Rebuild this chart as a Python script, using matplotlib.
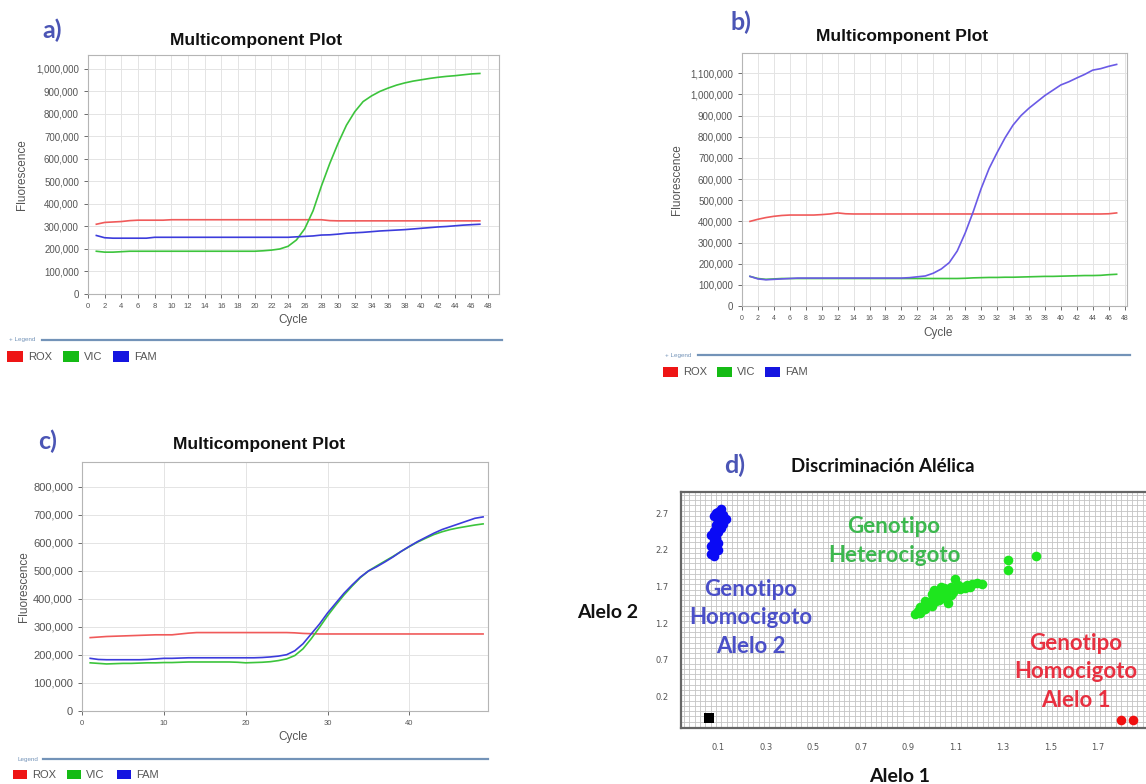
import numpy as np
import matplotlib
matplotlib.use("Agg")
import matplotlib.pyplot as plt
from matplotlib.patches import Rectangle
from matplotlib.ticker import FuncFormatter, MultipleLocator

# ---- data (fluorescence in thousands) ----
cycles_ab = np.arange(1, 48)
cycles_c = np.arange(1, 50)

a_rox = [310, 318, 320, 322, 326, 328, 328, 328, 328, 330,
         330, 330, 330, 330, 330, 330, 330, 330, 330, 330,
         330, 330, 330, 330, 330, 330, 330, 330, 326, 325,
         325, 325, 325, 325, 325, 325, 325, 325, 325, 325,
         325, 325, 325, 325, 325, 325, 325]
a_vic = [190, 186, 186, 188, 190, 190, 190, 190, 190, 190,
         190, 190, 190, 190, 190, 190, 190, 190, 190, 190,
         192, 195, 200, 212, 240, 290, 370, 480, 580, 670,
         750, 810, 855, 880, 900, 915, 928, 938, 946, 952,
         958, 963, 967, 970, 974, 978, 980]
a_fam = [260, 250, 248, 248, 248, 248, 248, 252, 252, 252,
         252, 252, 252, 252, 252, 252, 252, 252, 252, 252,
         252, 252, 252, 252, 254, 256, 258, 262, 263, 266,
         270, 272, 274, 277, 280, 282, 284, 286, 289, 292,
         295, 298, 300, 303, 306, 308, 310]

b_rox = [400, 410, 418, 424, 428, 430, 430, 430, 430, 432,
         435, 440, 436, 435, 435, 435, 435, 435, 435, 435,
         435, 435, 435, 435, 435, 435, 435, 435, 435, 435,
         435, 435, 435, 435, 435, 435, 435, 435, 435, 435,
         435, 435, 435, 435, 435, 436, 440]
b_vic = [140, 130, 126, 128, 130, 130, 130, 130, 130, 130,
         130, 130, 130, 130, 130, 130, 130, 130, 130, 130,
         130, 130, 130, 130, 130, 130, 130, 131, 133, 134,
         135, 135, 136, 136, 137, 138, 139, 140, 140, 141,
         142, 143, 144, 144, 145, 148, 150]
b_fam = [140, 128, 124, 126, 128, 130, 132, 132, 132, 132,
         132, 132, 132, 132, 132, 132, 132, 132, 132, 132,
         134, 138, 142, 155, 175, 205, 260, 345, 445, 555,
         650, 725, 795, 855, 900, 935, 965, 995, 1020, 1045,
         1060, 1078, 1095, 1115, 1122, 1133, 1142]

c_rox = [262, 264, 266, 267, 268, 269, 270, 271, 272, 272,
         272, 275, 278, 280, 280, 280, 280, 280, 280, 280,
         280, 280, 280, 280, 280, 279, 277, 276, 275, 275,
         275, 275, 275, 275, 275, 275, 275, 275, 275, 275,
         275, 275, 275, 275, 275, 275, 275, 275, 275]
c_vic = [172, 170, 168, 169, 170, 170, 171, 172, 172, 173,
         173, 174, 175, 175, 175, 175, 175, 175, 174, 172,
         173, 174, 176, 180, 186, 198, 222, 258, 298, 340,
         378, 414, 446, 476, 500, 518, 535, 552, 570, 587,
         603, 617, 630, 640, 648, 654, 659, 664, 668]
c_fam = [188, 184, 183, 183, 183, 183, 183, 184, 186, 188,
         188, 189, 190, 190, 190, 190, 190, 190, 190, 190,
         190, 191, 193, 196, 201, 215, 240, 275, 310, 350,
         385, 420, 450, 478, 500, 515, 532, 550, 570, 588,
         605, 620, 635, 648, 658, 668, 678, 688, 693]

# allelic discrimination clusters (Alelo 1, Alelo 2)
blue_x = [0.11, 0.10, 0.09, 0.12, 0.08, 0.13, 0.10, 0.12, 0.09, 0.11, 0.08,
          0.10, 0.07, 0.09, 0.08, 0.10, 0.07, 0.09, 0.08, 0.10, 0.07, 0.08]
blue_y = [2.76, 2.72, 2.70, 2.68, 2.66, 2.62, 2.60, 2.56, 2.54, 2.50, 2.46,
          2.44, 2.40, 2.36, 2.32, 2.30, 2.26, 2.22, 2.18, 2.20, 2.14, 2.11]
green_x = [0.93, 0.94, 0.95, 0.96, 0.95, 0.97, 0.98, 0.97, 0.99, 1.00, 1.00,
           1.01, 1.02, 1.01, 1.03, 1.04, 1.03, 1.05, 1.06, 1.05, 1.07, 1.08,
           1.07, 1.09, 1.10, 1.09, 1.11, 1.12, 1.13, 1.14, 1.15, 1.16, 1.17,
           1.19, 1.21, 1.00, 1.04, 1.08, 1.32, 1.32, 1.44]
green_y = [1.33, 1.36, 1.34, 1.38, 1.42, 1.40, 1.45, 1.50, 1.47, 1.52, 1.60,
           1.55, 1.50, 1.65, 1.58, 1.62, 1.52, 1.68, 1.60, 1.55, 1.64, 1.70,
           1.48, 1.66, 1.80, 1.62, 1.72, 1.66, 1.70, 1.68, 1.72, 1.70, 1.74,
           1.75, 1.74, 1.44, 1.70, 1.58, 2.06, 1.93, 2.11]
red_x = [1.80, 1.85]
red_y = [-0.12, -0.12]
ntc_x = [0.06]
ntc_y = [-0.09]

# ---- layout helpers (pixel coordinates, origin top-left) ----
W, H = 1146, 784
fig = plt.figure(figsize=(W / 100, H / 100), dpi=100)


def box(l, t, r, b):
    return fig.add_axes([l / W, 1 - b / H, (r - l) / W, (b - t) / H])


def ftext(x, y, s, **kw):
    kw.setdefault("ha", "center")
    kw.setdefault("va", "center")
    fig.text(x / W, 1 - y / H, s, **kw)


def frect(x, y, w, h, color):
    fig.add_artist(Rectangle((x / W, 1 - (y + h) / H), w / W, h / H,
                             transform=fig.transFigure, color=color, lw=0))


def fline(x0, x1, y, color="#7393b8"):
    fig.add_artist(plt.Line2D([x0 / W, x1 / W], [1 - y / H, 1 - y / H],
                              transform=fig.transFigure, color=color, lw=1.6))


def qpcr_style(ax, xlim, ylim, xticks, yticks, xsize, ysize):
    ax.set_xlim(*xlim)
    ax.set_ylim(*ylim)
    ax.set_xticks(xticks)
    ax.set_yticks(yticks)
    ax.yaxis.set_major_formatter(FuncFormatter(lambda v, p: f"{int(v):,}"))
    ax.grid(color="#e4e4e4", lw=0.7)
    ax.set_axisbelow(True)
    for s in ax.spines.values():
        s.set_color("#b5b5b5")
        s.set_linewidth(0.8)
    ax.tick_params(axis="x", labelsize=xsize, colors="#555555", length=3, width=0.6)
    ax.tick_params(axis="y", labelsize=ysize, colors="#555555", length=3, width=0.6)
    for lab in ax.get_xticklabels() + ax.get_yticklabels():
        lab.set_fontfamily("Liberation Sans")


def legend_block(line_x0, line_x1, line_y, leg_x, leg_label, px, py, pw, ph, tx):
    fline(line_x0, line_x1, line_y)
    ftext(leg_x, line_y, leg_label, fontsize=4.5, color="#7393b8", family="Liberation Sans")
    for x, t, c, name in zip(px, tx, ["#ee1515", "#15bb15", "#1515e0"], ["ROX", "VIC", "FAM"]):
        frect(x, py, pw, ph, c)
        ftext(t, py + ph / 2, name, ha="left", fontsize=8, color="#555555", family="Liberation Sans")


label_kw = dict(family="Lato", fontweight="bold", color="#4b55b5", fontsize=18)
title_kw = dict(family="Liberation Sans", fontweight="bold", fontsize=12.5, color="#111111")
axis_kw = dict(family="Liberation Sans", fontsize=8.5, color="#555555")

# ---- panel a ----
ax = box(88, 55, 499, 294)
ax.plot(cycles_ab, np.array(a_rox) * 1000, color="#f05a5a", lw=1.2)
ax.plot(cycles_ab, np.array(a_vic) * 1000, color="#3cc43c", lw=1.2)
ax.plot(cycles_ab, np.array(a_fam) * 1000, color="#3c3cdc", lw=1.2)
qpcr_style(ax, (0, 49.3), (0, 1062000), range(0, 49, 2), range(0, 1000001, 100000), 5.5, 7)
ftext(52, 30, "a)", **label_kw)
ftext(256, 40, "Multicomponent Plot", **title_kw)
ftext(22, 175, "Fluorescence", rotation=90, **axis_kw)
ftext(293, 320, "Cycle", **axis_kw)
legend_block(42, 502, 340, 22, "+ Legend", [7, 63, 113], 351, 16, 11, [28, 84, 134])

# ---- panel b ----
ax = box(742, 53, 1127, 306)
ax.plot(cycles_ab, np.array(b_rox) * 1000, color="#f05a5a", lw=1.2)
ax.plot(cycles_ab, np.array(b_vic) * 1000, color="#3cc43c", lw=1.2)
ax.plot(cycles_ab, np.array(b_fam) * 1000, color="#6a5ae6", lw=1.2)
qpcr_style(ax, (0, 48.3), (0, 1196000), range(0, 49, 2), range(0, 1100001, 100000), 5, 7)
ftext(741, 22, "b)", **label_kw)
ftext(902, 37, "Multicomponent Plot", **title_kw)
ftext(677, 180, "Fluorescence", rotation=90, **axis_kw)
ftext(938, 333, "Cycle", **axis_kw)
legend_block(698, 1130, 355, 678, "+ Legend", [663, 717, 765], 367, 15, 10, [683, 737, 785])

# ---- panel c ----
ax = box(82, 462, 488, 711)
ax.plot(cycles_c, np.array(c_rox) * 1000, color="#f05a5a", lw=1.2)
ax.plot(cycles_c, np.array(c_vic) * 1000, color="#3cc43c", lw=1.2)
ax.plot(cycles_c, np.array(c_fam) * 1000, color="#3c3cdc", lw=1.2)
qpcr_style(ax, (0, 49.6), (0, 889000), range(0, 41, 10), range(0, 800001, 100000), 5.5, 8)
ftext(48, 441, "c)", **label_kw)
ftext(259, 445, "Multicomponent Plot", **title_kw)
ftext(24, 587, "Fluorescence", rotation=90, **axis_kw)
ftext(293, 737, "Cycle", **axis_kw)
legend_block(43, 488, 759, 28, "Legend", [13, 67, 117], 770, 14, 9, [32, 86, 136])

# ---- panel d ----
ax = box(681, 492, 1160, 728)
ax.set_xlim(-0.058, 1.963)
ax.set_ylim(-0.23, 2.99)
ax.xaxis.set_minor_locator(MultipleLocator(0.0225))
ax.yaxis.set_minor_locator(MultipleLocator(0.072))
ax.set_xticks(np.arange(0.1, 1.75, 0.2))
ax.set_yticks(np.arange(0.2, 2.75, 0.5))
ax.xaxis.set_major_formatter(FuncFormatter(lambda v, p: f"{v:.1f}"))
ax.yaxis.set_major_formatter(FuncFormatter(lambda v, p: f"{v:.1f}"))
ax.grid(which="major", visible=False)
ax.grid(which="minor", color="#c4c4c4", lw=0.6)
ax.set_axisbelow(True)
ax.tick_params(which="both", length=0)
ax.tick_params(axis="x", labelsize=6, colors="#555555", pad=11)
ax.tick_params(axis="y", labelsize=6, colors="#555555", pad=9)
for s in ax.spines.values():
    s.set_color("#666666")
    s.set_linewidth(1.6)
ax.scatter(blue_x, blue_y, s=48, color="#0a0af5", lw=0)
ax.scatter(green_x, green_y, s=48, color="#1ee61e", lw=0)
ax.scatter(red_x, red_y, s=48, color="#f01010", lw=0)
ax.scatter(ntc_x, ntc_y, s=50, marker="s", color="black", lw=0)

ftext(735, 465, "d)", **label_kw)
ftext(883, 467, "Discriminación Alélica", family="Lato", fontweight="bold", fontsize=13.5, color="#111111")
ftext(608, 613, "Alelo 2", family="Lato", fontweight="bold", fontsize=14, color="#111111")
ftext(900, 777, "Alelo 1", family="Lato", fontweight="bold", fontsize=14, color="#111111")
ann_kw = dict(family="Lato", fontweight="bold", fontsize=16, linespacing=1.42, ha="center")
ftext(751, 618, "Genotipo\nHomocigoto\nAlelo 2", color="#4a4fc8", **ann_kw)
ftext(894, 541, "Genotipo\nHeterocigoto", color="#3cb84e", **ann_kw)
ftext(1076, 672, "Genotipo\nHomocigoto\nAlelo 1", color="#e83040", **ann_kw)

fig.savefig("out.png", dpi=100, facecolor="white")
